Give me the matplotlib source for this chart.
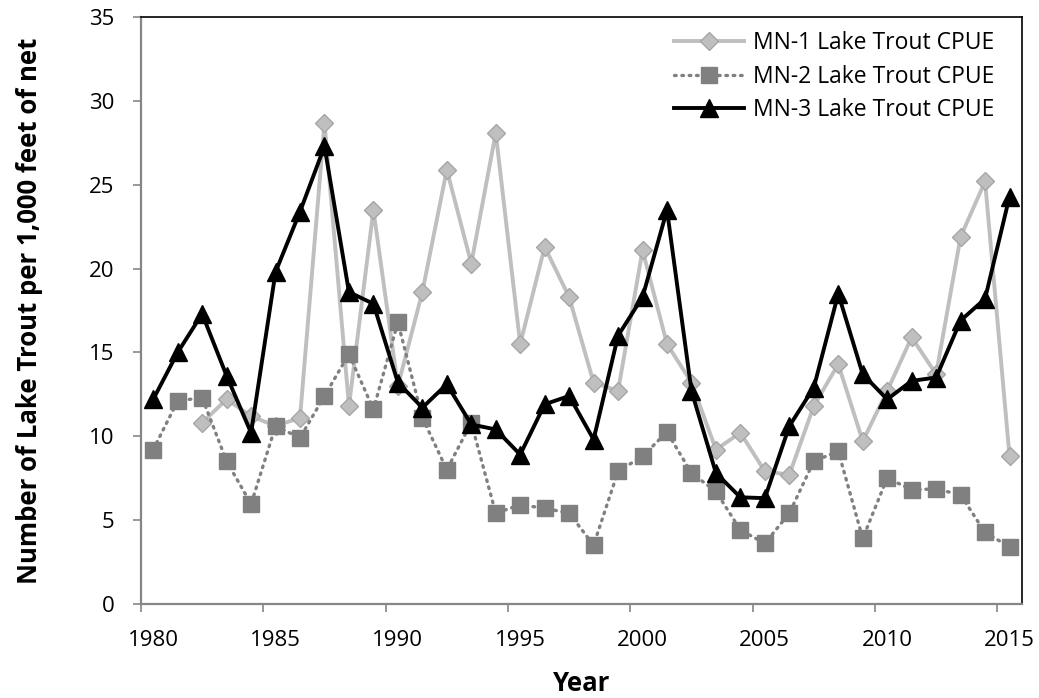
import matplotlib
matplotlib.use("Agg")
import matplotlib.pyplot as plt
import matplotlib.transforms as mtransforms
import numpy as np

years = list(range(1980, 2016))

mn1 = [None, None, 10.8, 12.2, 11.2, 10.6, 11.1, 28.7, 11.8, 23.5,
       13.0, 18.6, 25.9, 20.3, 28.1, 15.5, 21.3, 18.3, 13.2, 12.7,
       21.1, 15.5, 13.2, 9.2, 10.2, 7.9, 7.7, 11.8, 14.3, 9.7,
       12.7, 15.9, 13.7, 21.9, 25.2, 8.8]
mn2 = [9.2, 12.1, 12.3, 8.5, 5.95, 10.6, 9.9, 12.4, 14.9, 11.6,
       16.8, 11.1, 8.0, 10.8, 5.4, 5.9, 5.7, 5.4, 3.5, 7.9,
       8.8, 10.25, 7.8, 6.7, 4.4, 3.6, 5.4, 8.5, 9.1, 3.9,
       7.5, 6.8, 6.85, 6.5, 4.25, 3.4]
mn3 = [12.2, 15.0, 17.3, 13.6, 10.2, 19.8, 23.4, 27.3, 18.6, 17.9,
       13.2, 11.7, 13.1, 10.7, 10.4, 8.9, 11.9, 12.4, 9.8, 16.0,
       18.3, 23.5, 12.7, 7.8, 6.35, 6.3, 10.6, 12.9, 18.5, 13.7,
       12.2, 13.3, 13.5, 16.9, 18.2, 24.3]

labels = ["MN-1 Lake Trout CPUE", "MN-2 Lake Trout CPUE", "MN-3 Lake Trout CPUE"]
xticks = [1980, 1985, 1990, 1995, 2000, 2005, 2010, 2015]
yticks = [0, 5, 10, 15, 20, 25, 30, 35]

plt.rcParams['font.family'] = ['Open Sans', 'DejaVu Sans']

fig = plt.figure(figsize=(10.39, 6.98), dpi=100)
ax = fig.add_axes([0.1357, 0.1351, 0.9834 - 0.1357, 0.9752 - 0.1351])

x = np.array(years) + 0.5
y1 = np.array([np.nan if v is None else v for v in mn1], dtype=float)

ax.plot(x, y1, color='#BFBFBF', lw=2.8, marker='D', ms=9,
        mfc='#BFBFBF', mec='#A6A6A6', mew=1.0, label=labels[0], zorder=3)
ax.plot(x, mn2, color='#808080', lw=2.4, ls=(0, (0.5, 1.7)), dash_capstyle='round',
        marker='s', ms=11, mfc='#808080', mec='#808080', label=labels[1], zorder=4)
ax.plot(x, mn3, color='#000000', lw=2.8, marker='^', ms=12.5,
        mfc='#000000', mec='#000000', label=labels[2], zorder=5)

ax.set_xlim(1980, 2016)
ax.set_ylim(0, 35)
ax.set_xticks(xticks)
ax.set_yticks(yticks)
ax.tick_params(axis='both', direction='out', length=6, width=1.2, color='#868686',
               labelsize=16, pad=13)

offset = mtransforms.ScaledTranslation(12 / 100, 0, fig.dpi_scale_trans)
for lab in ax.get_xticklabels():
    lab.set_transform(lab.get_transform() + offset)

for s in ['top', 'right']:
    ax.spines[s].set_color('#000000')
    ax.spines[s].set_linewidth(1.2)
for s in ['left', 'bottom']:
    ax.spines[s].set_color('#868686')
    ax.spines[s].set_linewidth(1.6)

ax.set_xlabel('Year', fontsize=18.5, fontweight='bold')
ax.set_ylabel('Number of Lake Trout per 1,000 feet of net', fontsize=18.5,
              fontweight='bold')
ax.yaxis.set_label_coords(-0.111, 0.5)
ax.xaxis.set_label_coords(0.5, -0.113)

leg = ax.legend(loc='upper right', frameon=False, fontsize=16.5,
                handlelength=3.05, handletextpad=0.4, labelspacing=0.42,
                borderaxespad=0.2, bbox_to_anchor=(0.985, 1.0))

fig.savefig('out.png', dpi=100)
